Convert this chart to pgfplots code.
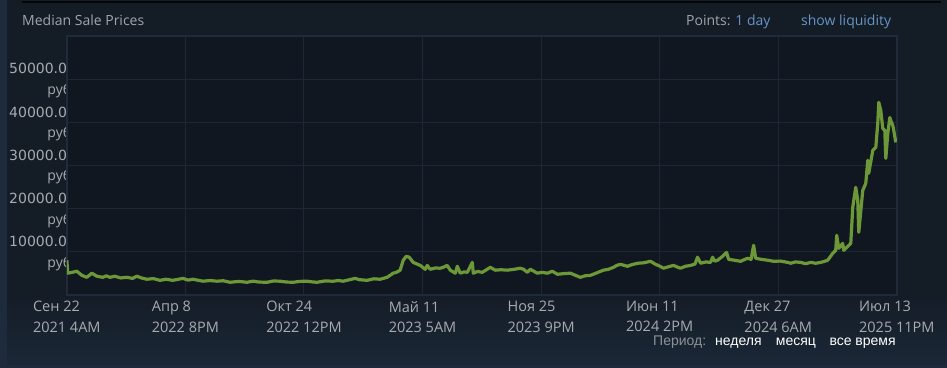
\documentclass[border=0pt]{standalone}
\usepackage{fontspec}
\setmainfont{Open Sans}
\newfontfamily\dejavu{DejaVu Sans}
\newfontfamily\arialf{Liberation Sans}
\usepackage{pgfplots}
\pgfplotsset{compat=1.18}
\definecolor{bg}{RGB}{20,28,38}
\definecolor{bgbot}{RGB}{27,40,56}
\definecolor{plotbg}{RGB}{16,23,32}
\definecolor{gridc}{RGB}{29,40,54}
\definecolor{borderc}{RGB}{31,43,59}
\definecolor{linec}{RGB}{108,152,55}
\definecolor{tickc}{RGB}{168,171,175}
\definecolor{titlec}{RGB}{160,165,170}
\definecolor{bluec}{RGB}{103,148,199}
\definecolor{pergray}{RGB}{140,145,150}
\definecolor{strip}{RGB}{29,43,60}
\newcommand{\rub}{\hbox{\rmfamily руб\kern4.7bp}}
\pgfplotsset{
  chartbox/.style={
    at={(66.8bp,72.75bp)}, anchor=south west,
    scale only axis, width=830bp, height=259.5bp,
    xmin=0, xmax=1390, ymin=0, ymax=60000,
    major tick length=0pt,
    scaled y ticks=false, scaled x ticks=false,
  },
}
\begin{document}
\begin{tikzpicture}
% background
\fill[bg] (0,0) rectangle (947bp,368bp);
\shade[top color=bg,bottom color=bgbot] (0,0) rectangle (947bp,75bp);
\fill[strip] (0,0) rectangle (7bp,368bp);
\fill[black!80!bg] (22bp,364.5bp) rectangle (941bp,367bp);
\fill[strip!80!bgbot] (7bp,0) rectangle (947bp,3bp);
% axis 1: y tick labels only (partly hidden below the plot area, as in the reference)
\begin{axis}[chartbox,
  axis line style={draw=none},
  xtick=\empty,
  ytick={10000,20000,30000,40000,50000},
  yticklabels={{10000.00\\\rub},{20000.00\\\rub},{30000.00\\\rub},{40000.00\\\rub},{50000.00\\\rub}},
  yticklabel style={anchor=east,align=right,inner sep=0pt,outer sep=0pt,xshift=9.2bp,yshift=-1.6bp,text=tickc,font={\dejavu\fontsize{14bp}{20.6bp}\selectfont}},
]
\end{axis}
% axis 2: plot area
\begin{axis}[chartbox,
  axis background/.style={fill=plotbg},
  axis line style={draw=borderc,line width=1.6bp},
  grid=major, grid style={draw=gridc,line width=1bp},
  xtick={0,198.571,397.143,595.714,794.286,992.857,1191.429,1390},
  xticklabels={{Сен 22\\2021 4AM},{Апр 8\\2022 8PM},{Окт 24\\2022 12PM},{Май 11\\2023 5AM},{Ноя 25\\2023 9PM},{Июн 11\\2024 2PM},{Дек 27\\2024 6AM},{Июл 13\\2025 11PM}},
  xticklabel style={anchor=north,align=left,inner sep=0pt,yshift=-5.6bp,text=tickc,font={\fontsize{14.5bp}{20.5bp}\selectfont}},
  ytick={10000,20000,30000,40000,50000},
  yticklabels={},
  clip=true,
]
\addplot[linec,line width=3.2bp,line join=round] coordinates {
(0,8100)(1.7,5100)(9,5300)(16.8,5550)(25.2,4600)(33.5,4150)(41.9,5100)(50.3,4400)(60.4,4150)(66,4500)(72.1,4150)(80.5,4400)(90,4000)(100.6,4150)(110,3900)(117.4,4400)(125,4000)(134.1,3700)(145,3850)(155.9,3450)(166,3700)(177.7,3450)(194.5,3900)(203,3500)(211.3,3700)(228,3250)(240,3400)(251.5,3250)(262,3350)(273.3,3000)(288,3200)(301.8,3000)(311.9,3250)(322,3050)(335.3,3000)(346,3300)(357.1,3250)(368,3050)(378.9,3000)(390,3200)(402.4,3250)(410,3100)(419.2,3000)(432,3300)(446,3250)(455,3400)(462.8,3250)(472,3550)(482.9,3900)(490,3600)(503,3450)(514,3800)(524.8,3700)(536.5,4150)(546.6,5100)(552,5300)(558.3,5800)(563.4,8100)(568.4,9000)(573.4,8800)(580.1,7600)(591.9,6900)(600.3,6000)(603.6,6900)(608.6,6000)(617,6300)(625.4,6250)(631,6500)(637.1,6900)(642.2,5800)(650.6,5100)(653.9,6700)(658.9,5100)(665,5400)(670.7,5300)(679.1,7600)(680.7,5100)(688,5500)(695.8,5300)(709.2,6450)(717.6,5800)(727,5900)(737.7,5800)(749,6000)(759.5,6250)(765,6000)(771.3,5300)(776.3,6000)(788,5100)(796,5300)(804.8,5100)(813.2,5550)(821.6,4850)(832,5000)(843.4,5100)(852,4600)(860.1,4150)(868,4500)(876.9,4600)(888,5200)(898.7,5800)(907,6000)(915.5,6450)(921,6900)(927.2,7150)(938.9,6700)(947,7100)(955.7,7400)(966,7500)(977.5,7850)(985.9,7150)(992,6800)(999.3,6250)(1008,6600)(1016.1,6900)(1021,6600)(1027.8,6250)(1036,6700)(1044.6,6900)(1052,7200)(1056.3,8800)(1061.4,7400)(1070,7700)(1078.1,7600)(1081.5,8800)(1085,7900)(1089.9,8100)(1098.2,9000)(1104.9,9900)(1108.3,8300)(1118,8100)(1128.4,7850)(1134,8200)(1140.2,8550)(1146,8300)(1150.2,11550)(1153.6,8550)(1163,8300)(1173.7,8100)(1183.8,7850)(1195,7900)(1207.2,7600)(1212.3,7400)(1220,7700)(1229,7600)(1237,7300)(1245.8,7600)(1254,7400)(1262.6,7600)(1268,7800)(1274.3,8100)(1282.7,9700)(1287.7,10400)(1289.4,13850)(1292.8,10850)(1299.4,12000)(1301.1,10400)(1307,11200)(1312.9,12000)(1316.2,20300)(1321.2,24950)(1324.6,21950)(1326.3,14550)(1333,24250)(1338,25850)(1341.4,31200)(1343,28200)(1349.8,33500)(1354.8,34200)(1358.1,39700)(1359.8,44600)(1363.2,42700)(1366.5,38600)(1369.9,38100)(1371.6,31650)(1374.9,37400)(1378.3,41100)(1379.9,40400)(1383.3,39250)(1384.9,38100)(1388.3,35350)
};
\end{axis}
% header texts
\node[anchor=base west,inner sep=0pt,text=titlec,font={\fontsize{14bp}{16bp}\selectfont}] at (22bp,342bp) {Median Sale Prices};
\node[anchor=base west,inner sep=0pt,text=titlec,font={\fontsize{14bp}{16bp}\selectfont}] at (686bp,342bp) {Points: \textcolor{bluec}{1 day}};
\node[anchor=base west,inner sep=0pt,text=bluec,font={\fontsize{14bp}{16bp}\selectfont}] at (801bp,342bp) {show liquidity};
% period selector
\node[anchor=base west,inner sep=0pt,text=pergray,font={\arialf\fontsize{14bp}{16bp}\selectfont}] at (653bp,23bp) {Период:};
\node[anchor=base west,inner sep=0pt,text=white,font={\arialf\fontsize{14bp}{16bp}\selectfont}] at (715bp,23bp) {неделя};
\node[anchor=base west,inner sep=0pt,text=white,font={\arialf\fontsize{14bp}{16bp}\selectfont}] at (775.7bp,23bp) {месяц};
\node[anchor=base west,inner sep=0pt,text=white,font={\arialf\fontsize{14bp}{16bp}\selectfont}] at (829.3bp,23bp) {все время};
\end{tikzpicture}
\end{document}
